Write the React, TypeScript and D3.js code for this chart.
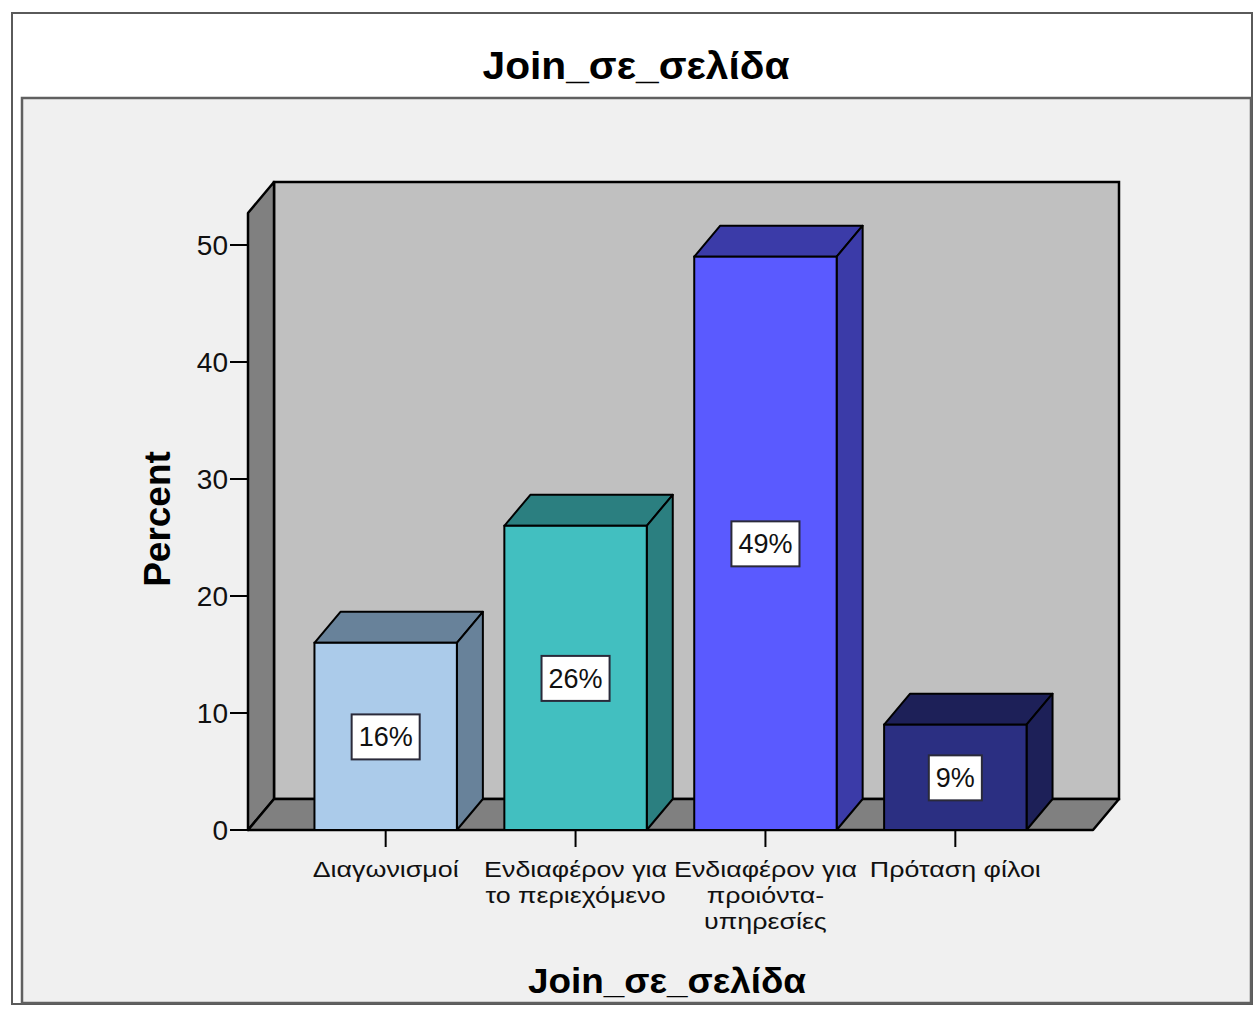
import * as d3 from "d3";
import { useEffect, useRef } from "react";

const CATEGORIES = [
  ["Διαγωνισμοί"],
  ["Ενδιαφέρον για", "το περιεχόμενο"],
  ["Ενδιαφέρον για", "προιόντα-", "υπηρεσίες"],
  ["Πρόταση φίλοι"],
];
const PERCENTS = [16, 26, 49, 9];
const Y_TICKS = [0, 10, 20, 30, 40, 50];
const FRONT_COLORS = ["#abcbea", "#42bfc0", "#5a5aff", "#2b2f82"];
const SIDE_COLORS = ["#68829a", "#2b7f80", "#3b3ba8", "#1d2058"];

const TITLE = "Join_σε_σελίδα";
const FONT = "'Liberation Sans', Arial, sans-serif";

export default function App() {
  const ref = useRef<SVGSVGElement | null>(null);

  useEffect(() => {
    const svg = d3.select(ref.current);
    svg.selectAll("*").remove();

    const width = 1256;
    const height = 1009;
    const dx = 26;
    const dy = 31;
    const floorY = 830;
    const axisX = 248;
    const rightX = 1093;

    svg.attr("width", width).attr("height", height)
      .style("position", "absolute").style("left", "0px").style("top", "0px");

    // page / frames
    svg.append("rect").attr("width", width).attr("height", height).attr("fill", "#ffffff");
    svg.append("rect")
      .attr("x", 12).attr("y", 13).attr("width", 1240).attr("height", 991)
      .attr("fill", "#ffffff").attr("stroke", "#5a5a5a").attr("stroke-width", 2);
    svg.append("rect")
      .attr("x", 22).attr("y", 98).attr("width", 1229).attr("height", 905)
      .attr("fill", "#f0f0f0").attr("stroke", "#606060").attr("stroke-width", 2.5);

    svg.append("text")
      .attr("x", 636).attr("y", 79)
      .attr("text-anchor", "middle")
      .attr("font-family", FONT).attr("font-weight", "bold").attr("font-size", 38)
      .attr("textLength", 307).attr("lengthAdjust", "spacingAndGlyphs")
      .attr("fill", "#000")
      .text(TITLE);

    const y = d3.scaleLinear().domain([0, 10]).range([floorY, floorY - 117]);
    const yMax = y.invert(213);
    const x = d3.scaleBand<number>()
      .domain(d3.range(PERCENTS.length))
      .range([axisX, rightX])
      .paddingInner(0.25)
      .paddingOuter(0.35);

    const topFront = y(yMax);

    // back wall
    svg.append("rect")
      .attr("x", axisX + dx).attr("y", topFront - dy)
      .attr("width", rightX - axisX).attr("height", floorY - topFront)
      .attr("fill", "#c0c0c0").attr("stroke", "#000").attr("stroke-width", 2.5);

    // left wall
    svg.append("path")
      .attr("d", `M${axisX},${floorY} L${axisX},${topFront} L${axisX + dx},${topFront - dy} L${axisX + dx},${floorY - dy} Z`)
      .attr("fill", "#808080").attr("stroke", "#000").attr("stroke-width", 2.5).attr("stroke-linejoin", "round");

    // floor
    svg.append("path")
      .attr("d", `M${axisX},${floorY} L${axisX + dx},${floorY - dy} L${rightX + dx},${floorY - dy} L${rightX},${floorY} Z`)
      .attr("fill", "#808080").attr("stroke", "#000").attr("stroke-width", 2.5).attr("stroke-linejoin", "round");

    // y axis ticks
    Y_TICKS.forEach((t) => {
      svg.append("line")
        .attr("x1", axisX - 18).attr("x2", axisX)
        .attr("y1", y(t)).attr("y2", y(t))
        .attr("stroke", "#000").attr("stroke-width", 2);
      svg.append("text")
        .attr("x", axisX - 20).attr("y", y(t))
        .attr("dy", "0.36em")
        .attr("text-anchor", "end")
        .attr("font-family", FONT).attr("font-size", 28)
        .attr("fill", "#111")
        .text(t);
    });

    svg.append("text")
      .attr("transform", `translate(170,${519}) rotate(-90)`)
      .attr("text-anchor", "middle")
      .attr("font-family", FONT).attr("font-weight", "bold").attr("font-size", 37)
      .attr("fill", "#000")
      .text("Percent");

    // bars
    PERCENTS.forEach((v, i) => {
      const x0 = x(i)!;
      const x1 = x0 + x.bandwidth();
      const yt = y(v);
      const g = svg.append("g");
      g.append("path")
        .attr("d", `M${x0},${yt} L${x0 + dx},${yt - dy} L${x1 + dx},${yt - dy} L${x1},${yt} Z`)
        .attr("fill", SIDE_COLORS[i]).attr("stroke", "#000").attr("stroke-width", 2).attr("stroke-linejoin", "round");
      g.append("path")
        .attr("d", `M${x1},${yt} L${x1 + dx},${yt - dy} L${x1 + dx},${floorY - dy} L${x1},${floorY} Z`)
        .attr("fill", SIDE_COLORS[i]).attr("stroke", "#000").attr("stroke-width", 2).attr("stroke-linejoin", "round");
      g.append("rect")
        .attr("x", x0).attr("y", yt)
        .attr("width", x.bandwidth()).attr("height", floorY - yt)
        .attr("fill", FRONT_COLORS[i]).attr("stroke", "#000").attr("stroke-width", 2);

      const cx = x0 + x.bandwidth() / 2;
      const cy = (yt + floorY) / 2;
      const label = g.append("text")
        .attr("x", cx).attr("y", cy)
        .attr("dy", "0.36em")
        .attr("text-anchor", "middle")
        .attr("font-family", FONT).attr("font-size", 27)
        .attr("fill", "#111")
        .text(`${v}%`);
      const bb = (label.node() as SVGTextElement).getBBox();
      g.insert("rect", "text")
        .attr("x", cx - bb.width / 2 - 7).attr("y", cy - 22)
        .attr("width", bb.width + 14).attr("height", 45)
        .attr("fill", "#ffffff").attr("stroke", "#2a2a3a").attr("stroke-width", 2);

      // x tick
      svg.append("line")
        .attr("x1", cx).attr("x2", cx)
        .attr("y1", floorY).attr("y2", floorY + 17)
        .attr("stroke", "#000").attr("stroke-width", 2);
      CATEGORIES[i].forEach((line, j) => {
        svg.append("text")
          .attr("transform", `translate(${cx},${877 + j * 26}) scale(1.22,1)`)
          .attr("text-anchor", "middle")
          .attr("font-family", FONT).attr("font-size", 22)
          .attr("fill", "#111")
          .text(line);
      });
    });

    svg.append("text")
      .attr("x", 667).attr("y", 993)
      .attr("text-anchor", "middle")
      .attr("font-family", FONT).attr("font-weight", "bold").attr("font-size", 35)
      .attr("textLength", 278).attr("lengthAdjust", "spacingAndGlyphs")
      .attr("fill", "#000")
      .text(TITLE);
  }, []);

  return <svg ref={ref} />;
}
